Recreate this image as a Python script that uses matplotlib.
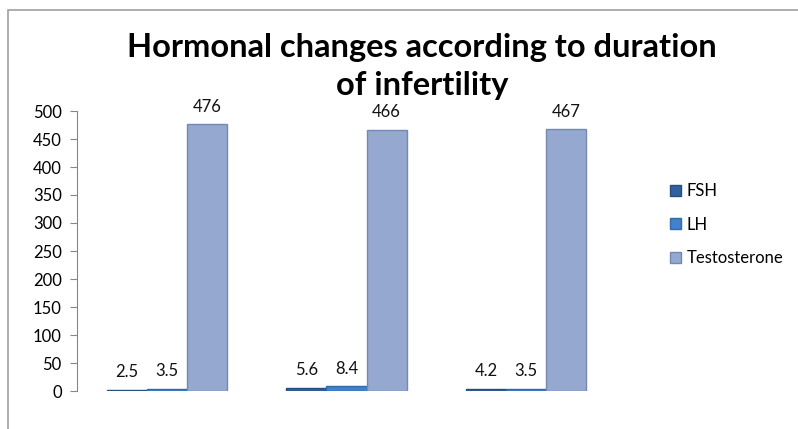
import matplotlib.pyplot as plt
import numpy as np
from matplotlib.patches import Rectangle

# datos
grupos = ["1", "2", "3"]
fsh = [2.5, 5.6, 4.2]
lh = [3.5, 8.4, 3.5]
testosterona = [476, 466, 467]
series = ["FSH", "LH", "Testosterone"]
yticks = [0, 50, 100, 150, 200, 250, 300, 350, 400, 450, 500]

plt.rcParams['font.family'] = ['Lato', 'DejaVu Sans']

fig = plt.figure(figsize=(7.98, 4.29), dpi=100)
ax = fig.add_axes([77/798, (429-391)/429, (616-77)/798, (391-111)/429])

x = np.arange(len(grupos))
w = 0.2235
colores = ['#32609f', '#4282cc', '#95a9d0']
bordes = ['#274d80', '#326aa8', '#7488b0']

valores = [fsh, lh, testosterona]
for i, (vals, c, b) in enumerate(zip(valores, colores, bordes)):
	pos = x + (i - 1) * w
	ax.bar(pos, vals, width=w, color=c, edgecolor=b, linewidth=1.0, label=series[i])
	for px, v in zip(pos, vals):
		ax.annotate(f"{v:g}", (px, v), xytext=(0, 7), textcoords='offset points',
					ha='center', va='bottom', fontsize=12, color='#111111')

ax.set_xlim(-0.5, 2.5)
ax.set_ylim(0, 500)
ax.set_yticks(yticks)
ax.set_xticks([])
ax.tick_params(axis='y', direction='out', length=5, color='#868686', labelsize=12, pad=6)
for s in ['top', 'right', 'bottom']:
	ax.spines[s].set_visible(False)
ax.spines['left'].set_color('#868686')

# Titulo
fig.text(422/798, 1 - 48/429, "Hormonal changes according to duration", ha='center', va='center',
		 fontsize=23.5, fontweight='bold')
fig.text(422/798, 1 - 86/429, "of infertility", ha='center', va='center',
		 fontsize=23.5, fontweight='bold')

# Leyenda
leg = fig.legend(loc='upper left', bbox_to_anchor=(655/798, 1 - 168/429), frameon=False,
				 fontsize=12, handlelength=0.65, handleheight=0.65, handletextpad=0.35,
				 labelspacing=1.05)

# Marco
fig.patches.append(Rectangle((8/798, -0.1), 1.2, 1 - 10/429 + 0.1, transform=fig.transFigure,
							 fill=False, edgecolor='#a0a0a0', linewidth=1.2))

fig.savefig("out.png", dpi=100)
